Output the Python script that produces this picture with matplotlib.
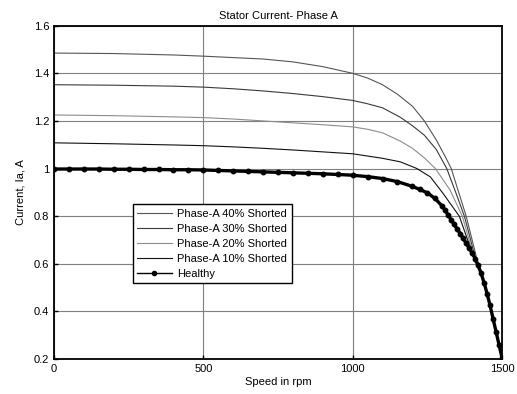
import matplotlib
matplotlib.use("Agg")
import matplotlib.pyplot as plt
from matplotlib.ticker import FuncFormatter

plt.rcParams['font.family'] = ['Liberation Sans', 'DejaVu Sans']

# speed (rpm) and stator current (A)
speed_40 = [0, 200, 400, 500, 600, 700, 800, 900, 1000, 1050, 1100, 1150, 1200,
            1240, 1280, 1310, 1330, 1355, 1380, 1400, 1420, 1430, 1440, 1450,
            1460, 1470, 1480, 1490, 1500]
cur_40 = [1.485, 1.483, 1.477, 1.472, 1.466, 1.46, 1.448, 1.428, 1.40, 1.38, 1.352,
          1.312, 1.262, 1.20, 1.12, 1.05, 1.0, 0.9, 0.8, 0.7, 0.6, 0.56, 0.52, 0.475,
          0.425, 0.37, 0.315, 0.26, 0.205]

speed_30 = [0, 200, 400, 500, 600, 700, 800, 900, 1000, 1050, 1100, 1160, 1200,
            1240, 1280, 1315, 1345, 1374, 1395, 1418, 1430, 1440, 1450, 1460, 1470,
            1480, 1490, 1500]
cur_30 = [1.352, 1.350, 1.346, 1.342, 1.335, 1.326, 1.315, 1.302, 1.286, 1.272,
          1.255, 1.215, 1.18, 1.14, 1.08, 1.0, 0.9, 0.8, 0.7, 0.59, 0.56, 0.52, 0.475,
          0.425, 0.37, 0.315, 0.26, 0.205]

speed_20 = [0, 200, 400, 500, 600, 700, 800, 900, 1000, 1050, 1100, 1160, 1200,
            1240, 1277, 1326, 1367, 1390, 1415, 1430, 1440, 1450, 1460, 1470, 1480,
            1490, 1500]
cur_20 = [1.225, 1.222, 1.217, 1.214, 1.208, 1.200, 1.192, 1.184, 1.175, 1.165,
          1.15, 1.115, 1.085, 1.045, 1.0, 0.91, 0.8, 0.7, 0.59, 0.56, 0.52, 0.475,
          0.425, 0.37, 0.315, 0.26, 0.205]

speed_10 = [0, 200, 400, 500, 600, 700, 800, 900, 1000, 1100, 1160, 1215, 1260,
            1300, 1357, 1385, 1410, 1420, 1430, 1440, 1450, 1460, 1470, 1480, 1490,
            1500]
cur_10 = [1.108, 1.104, 1.099, 1.096, 1.091, 1.085, 1.078, 1.07, 1.062, 1.043,
          1.028, 1.0, 0.965, 0.9, 0.8, 0.7, 0.61, 0.594, 0.56, 0.52, 0.475, 0.425,
          0.37, 0.315, 0.26, 0.205]

speed_h = [0, 50, 100, 150, 200, 250, 300, 350, 400, 450, 500, 550, 600, 650, 700,
           750, 800, 850, 900, 950, 1000, 1050, 1100, 1150, 1200, 1225, 1250, 1275,
           1300, 1310, 1320, 1330, 1340, 1350, 1360, 1370, 1380, 1390, 1400, 1410,
           1420, 1430, 1440, 1450, 1460, 1470, 1480, 1490, 1500]
cur_h = [0.998, 0.998, 0.998, 0.998, 0.997, 0.997, 0.996, 0.996, 0.995, 0.995,
         0.994, 0.992, 0.990, 0.988, 0.986, 0.984, 0.982, 0.980, 0.978, 0.975,
         0.972, 0.966, 0.958, 0.945, 0.925, 0.912, 0.898, 0.875, 0.842, 0.824,
         0.804, 0.785, 0.765, 0.746, 0.727, 0.707, 0.686, 0.666, 0.645, 0.622,
         0.594, 0.56, 0.52, 0.475, 0.425, 0.37, 0.315, 0.26, 0.205]

fig = plt.figure(figsize=(5.17, 3.94), dpi=100)
ax = fig.add_axes([0.1044, 0.0888, 0.8666, 0.846])

ax.plot(speed_40, cur_40, color='#555555', lw=0.8, label='Phase-A 40% Shorted')
ax.plot(speed_30, cur_30, color='#3a3a3a', lw=0.8, label='Phase-A 30% Shorted')
ax.plot(speed_20, cur_20, color='#8c8c8c', lw=0.8, label='Phase-A 20% Shorted')
ax.plot(speed_10, cur_10, color='#111111', lw=0.8, label='Phase-A 10% Shorted')
ax.plot(speed_h, cur_h, color='black', lw=2.4, marker='o', ms=3.2,
        markerfacecolor='black', markeredgecolor='black', label='Healthy')

ax.set_xlim(0, 1500)
ax.set_ylim(0.2, 1.6)
ax.set_xticks([0, 500, 1000, 1500])
ax.set_yticks([0.2, 0.4, 0.6, 0.8, 1.0, 1.2, 1.4, 1.6])
ax.yaxis.set_major_formatter(FuncFormatter(lambda v, p: f"{v:g}"))
ax.grid(True, color='#7f7f7f', lw=0.8, ls='-')
ax.set_axisbelow(True)
ax.tick_params(direction='in', length=3, labelsize=8, width=1)
for s in ax.spines.values():
    s.set_linewidth(1.3)

ax.set_title('Stator Current- Phase A', fontsize=8, pad=5)
ax.set_xlabel('Speed in rpm', fontsize=8, labelpad=2)
ax.set_ylabel('Current, Ia, A', fontsize=8, labelpad=6)

leg = ax.legend(loc='lower left', bbox_to_anchor=(0.176, 0.228, 0.384, 0.255),
                fontsize=8, fancybox=False, framealpha=1, edgecolor='black',
                handlelength=3.1, labelspacing=0.45, borderpad=0.4,
                handletextpad=0.5, borderaxespad=0)
leg.get_frame().set_linewidth(1.0)
# thin line in the legend handle for Healthy, like the reference
leg.legend_handles[-1].set_linewidth(1.0)
leg.legend_handles[-1].set_markersize(3)

fig.savefig('out.png', dpi=100)
